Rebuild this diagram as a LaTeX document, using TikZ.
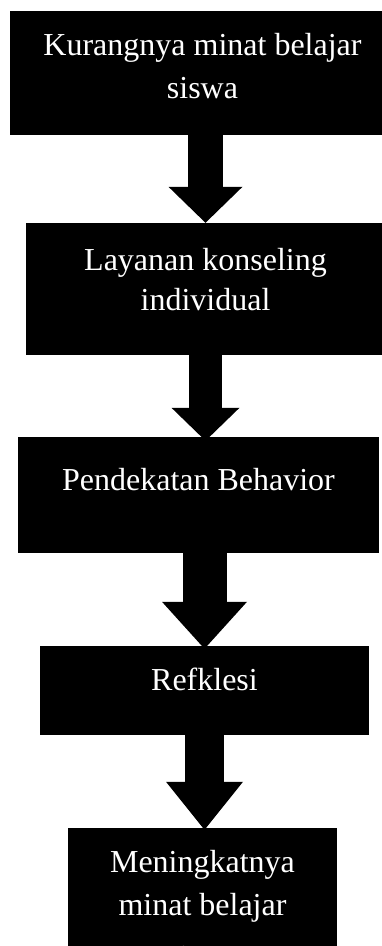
\documentclass[tikz,border=0pt]{standalone}
\usepackage{fontspec}
\setmainfont{Liberation Serif}
\usetikzlibrary{arrows.meta}
\tikzset{
  stage/.style={fill=black,text=white,inner sep=0pt,align=flush center,font=\fontsize{32}{43}\selectfont},
  flow/.style n args={3}{line width=#1,-{Triangle[width=#2,length=#3,line width=0pt]}}
}

\begin{document}
\begin{tikzpicture}[x=1pt,y=-1pt]
  \useasboundingbox (0,0) rectangle (382,946);
  \clip (0,0) rectangle (382,946);
  % stages, top-aligned text
  \node[stage,text width=385pt,text height=44pt,text depth=80pt] (kurang) at (202.5,73) {Kurangnya minat belajar\\siswa};
  \node[stage,text width=359pt,text height=47pt,text depth=85pt] (layanan) at (205.5,289) {Layanan konseling\\[-3pt]individual};
  \node[stage,text width=361pt,text height=53pt,text depth=63pt] (behavior) at (198.5,495) {Pendekatan Behavior};
  \node[stage,text width=329pt,text height=44pt,text depth=45pt] (refleksi) at (204.5,690.5) {Refklesi};
  \node[stage,text width=269pt,text height=44pt,text depth=116pt] (hasil) at (202.5,908) {Meningkatnya\\minat belajar\\[9pt]siswa};
  % block arrows
  \draw[flow={35pt}{74pt}{36pt}] (kurang.south -| layanan.north) -- (layanan.north);
  \draw[flow={33pt}{68pt}{33pt}] (layanan.south) -- ([yshift=-4pt]behavior.north -| layanan.south);
  \draw[flow={44pt}{85pt}{47pt}] ([yshift=3pt]behavior.south -| refleksi.north) -- ([yshift=-3pt]refleksi.north);
  \draw[flow={39pt}{77pt}{48pt}] ([yshift=2pt]refleksi.south) -- ([yshift=-2pt]hasil.north -| refleksi.south);
\end{tikzpicture}
\end{document}
